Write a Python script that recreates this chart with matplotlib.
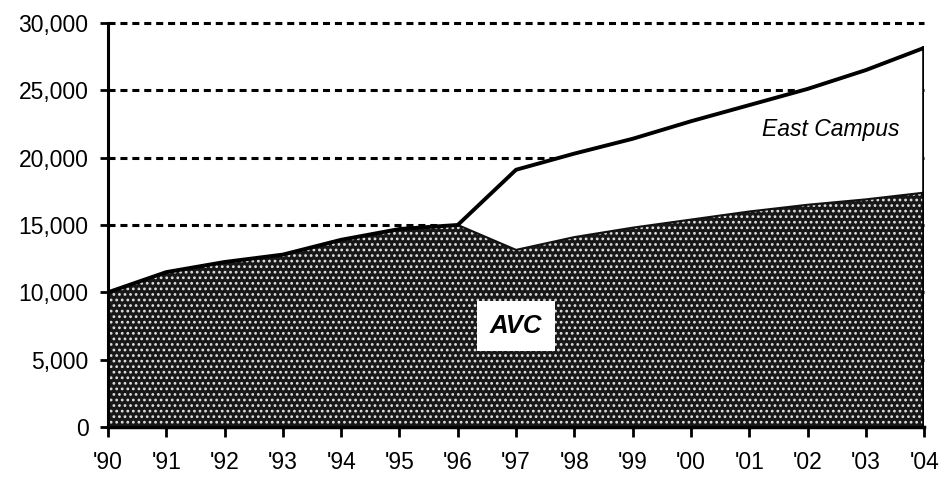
import matplotlib
matplotlib.use("Agg")
import matplotlib.pyplot as plt
import numpy as np

years = ["'90", "'91", "'92", "'93", "'94", "'95", "'96", "'97", "'98", "'99", "'00", "'01", "'02", "'03", "'04"]
avc = [10000, 11500, 12250, 12800, 13900, 14700, 15000, 13150, 14100, 14800, 15400, 16000, 16500, 16900, 17400]
total = [10000, 11500, 12250, 12800, 13900, 14700, 15000, 19100, 20300, 21400, 22700, 23900, 25100, 26500, 28150]
yticks = [0, 5000, 10000, 15000, 20000, 25000, 30000]

plt.rcParams['font.family'] = ['Liberation Sans', 'DejaVu Sans']
plt.rcParams['hatch.linewidth'] = 1.2

fig = plt.figure(figsize=(9.43, 4.78), dpi=100)
ax = fig.add_axes([0.1145, 0.1067, 0.8655, 0.8453])
x = np.arange(len(years))

for v in yticks[1:]:
    ax.plot([x[0], x[-1]], [v, v], color='black', lw=2.2, ls=(0, (2.3, 1.6)), zorder=1, clip_on=False)

ax.fill_between(x, 0, total, facecolor='white', edgecolor='none', zorder=2)
ax.fill_between(x, 0, avc, facecolor='#181818', edgecolor='#e0e0e0', hatch='...', lw=0, zorder=3)
ax.plot(x, avc, color='#111111', lw=1.5, zorder=4)
ax.plot(x, total, color='black', lw=2.8, zorder=5, solid_joinstyle='miter')
ax.plot([x[-1], x[-1]], [0, total[-1]], color='black', lw=2.6, zorder=5)
ax.plot([x[0], x[-1]], [0, 0], color='black', lw=2.5, zorder=5, clip_on=False)

ax.set_xlim(x[0], x[-1])
ax.set_ylim(0, 30000)
ax.set_xticks(x)
ax.set_xticklabels(years)
ax.set_yticks(yticks)
ax.set_yticklabels([f"{v:,}" for v in yticks])
for s in ['top', 'right', 'bottom']:
    ax.spines[s].set_visible(False)
ax.spines['left'].set_linewidth(2.2)
ax.spines['left'].set_zorder(6)
ax.tick_params(axis='both', labelsize=16.5, width=2, colors='black')
ax.tick_params(axis='y', length=6, pad=8)
ax.tick_params(axis='x', length=7, pad=10)

ax.text(7.0, 7500, 'AVC', fontsize=18.5, fontweight='bold', fontstyle='italic', ha='center', va='center', zorder=7,
        bbox=dict(boxstyle='square,pad=0.5', facecolor='white', edgecolor='none'))
ax.text(12.4, 22100, 'East Campus', fontsize=16.5, fontstyle='italic', ha='center', va='center', zorder=7)

fig.savefig('out.png', dpi=100)
